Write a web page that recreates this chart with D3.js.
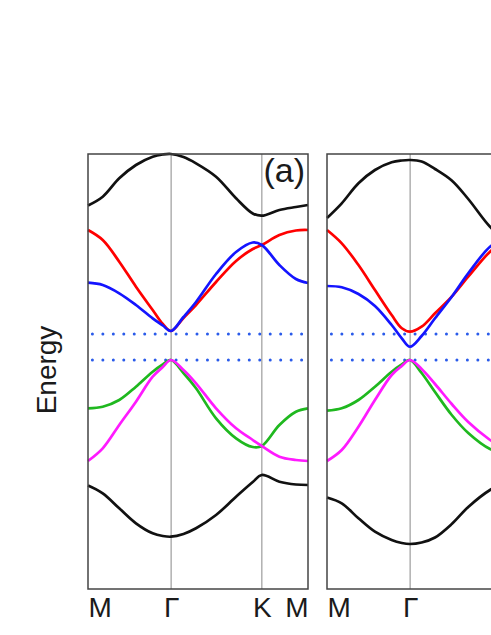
<!DOCTYPE html>
<html>
<head>
<meta charset="utf-8">
<script src="https://cdn.jsdelivr.net/npm/d3@7"></script>
<style>
  body { margin: 0; background: #fff; }
  svg { display: block; font-family: "Liberation Sans", Arial, sans-serif; }
</style>
</head>
<body>
<div id="chart"></div>
<script>
// k-path ticks (fraction of path length)
const kTicks = [0, 0.378, 0.79, 1];
const kLabels = ['M', 'Γ', 'K', 'M'];

// panel (a)
const kA = [0, 0.067, 0.142, 0.218, 0.294, 0.34, 0.377, 0.434, 0.491, 0.582, 0.673, 0.749, 0.79, 0.87, 0.945, 1];
const topA = [1.415, 1.503, 1.687, 1.82, 1.903, 1.925, 1.93, 1.9, 1.837, 1.703, 1.487, 1.335, 1.313, 1.37, 1.40, 1.42];
const redA = [1.17, 1.07, 0.853, 0.603, 0.37, 0.23, 0.16, 0.29, 0.42, 0.65, 0.86, 0.98, 1.02, 1.12, 1.165, 1.17];
const blueA = [0.643, 0.62, 0.537, 0.42, 0.287, 0.215, 0.16, 0.30, 0.45, 0.73, 0.95, 1.045, 1.02, 0.82, 0.68, 0.64];
const greenA = [-0.613, -0.597, -0.53, -0.397, -0.247, -0.175, -0.13, -0.26, -0.413, -0.713, -0.913, -1.0, -0.99, -0.78, -0.647, -0.613];
const magentaA = [-1.14, -1.013, -0.78, -0.547, -0.297, -0.2, -0.13, -0.23, -0.363, -0.613, -0.813, -0.93, -0.99, -1.097, -1.13, -1.14];
const bottomA = [-1.385, -1.463, -1.613, -1.763, -1.863, -1.89, -1.897, -1.87, -1.813, -1.68, -1.497, -1.35, -1.28, -1.347, -1.375, -1.38];

// panel (b)
const kB = [0, 0.067, 0.143, 0.218, 0.294, 0.34, 0.377, 0.43, 0.491, 0.567, 0.642, 0.741, 0.79, 0.87, 0.945, 1];
const topB = [1.29, 1.437, 1.637, 1.77, 1.847, 1.865, 1.87, 1.855, 1.78, 1.665, 1.48, 1.203, 1.12, 1.2, 1.27, 1.29];
const redB = [1.17, 1.037, 0.82, 0.57, 0.32, 0.187, 0.153, 0.203, 0.337, 0.503, 0.703, 0.953, 1.03, 1.12, 1.16, 1.17];
const blueB = [0.61, 0.597, 0.53, 0.41, 0.22, 0.087, 0.003, 0.11, 0.287, 0.503, 0.737, 1.003, 1.06, 0.85, 0.68, 0.64];
const greenB = [-0.637, -0.613, -0.53, -0.397, -0.247, -0.175, -0.13, -0.26, -0.45, -0.68, -0.86, -1.02, -1.05, -0.82, -0.66, -0.637];
const magentaB = [-1.14, -1.03, -0.797, -0.53, -0.28, -0.19, -0.13, -0.22, -0.37, -0.57, -0.75, -0.93, -1.0, -1.1, -1.13, -1.14];
const bottomB = [-1.505, -1.563, -1.713, -1.847, -1.93, -1.96, -1.97, -1.955, -1.905, -1.77, -1.6, -1.43, -1.38, -1.45, -1.49, -1.505];

// gap edges (dotted)
const gapEdges = [0.13, -0.13];

const bandColors = ['#111', '#ff0000', '#1414ff', '#1fb81f', '#ff1aff', '#111'];

function draw() {
    let dimensions = {
        width: 491,
        height: 635,
        top: 154,
        bottom: 589,
        panelWidth: 220,
        panels: [88, 327]
    };

    const yScale = d3.scaleLinear()
        .domain([-2.42, 1.93])
        .range([dimensions.bottom, dimensions.top]);

    const svg = d3.select('#chart')
        .append('svg')
        .attr('width', dimensions.width)
        .attr('height', dimensions.height);

    const panels = [
        { k: kA, bands: [topA, redA, blueA, greenA, magentaA, bottomA], label: '(a)' },
        { k: kB, bands: [topB, redB, blueB, greenB, magentaB, bottomB], label: null }
    ];

    panels.forEach((p, pi) => {
        const left = dimensions.panels[pi];
        const xScale = d3.scaleLinear()
            .domain([0, 1])
            .range([left, left + dimensions.panelWidth]);

        const g = svg.append('g');

        // vertical high-symmetry lines
        g.selectAll('line.sym')
            .data(kTicks.slice(1, 3))
            .join('line')
            .attr('class', 'sym')
            .attr('x1', d => xScale(d))
            .attr('x2', d => xScale(d))
            .attr('y1', dimensions.top)
            .attr('y2', dimensions.bottom)
            .attr('stroke', '#b0b0b0')
            .attr('stroke-width', 1.5);

        // dotted gap lines
        g.selectAll('line.gap')
            .data(gapEdges)
            .join('line')
            .attr('class', 'gap')
            .attr('x1', xScale(0.02))
            .attr('x2', xScale(0.985))
            .attr('y1', d => yScale(d))
            .attr('y2', d => yScale(d))
            .attr('stroke', '#2a5bea')
            .attr('stroke-width', 3)
            .attr('stroke-linecap', 'round')
            .attr('stroke-dasharray', '0.01 10.45');

        // bands
        const line = d3.line()
            .x(d => xScale(d[0]))
            .y(d => yScale(d[1]))
            .curve(d3.curveCatmullRom.alpha(0.5));

        g.selectAll('path.band')
            .data(p.bands)
            .join('path')
            .attr('class', 'band')
            .attr('fill', 'none')
            .attr('stroke', (d, i) => bandColors[i])
            .attr('stroke-width', 2.7)
            .attr('d', d => line(d.map((e, i) => [p.k[i], e])));

        // frame
        g.append('rect')
            .attr('x', xScale(0))
            .attr('y', dimensions.top)
            .attr('width', dimensions.panelWidth)
            .attr('height', dimensions.bottom - dimensions.top)
            .attr('fill', 'none')
            .attr('stroke', '#444')
            .attr('stroke-width', 1.5);

        // k axis (only ticks that fit in the window get a label)
        const shown = kTicks.filter(d => xScale(d) < dimensions.width - 12);
        const xAxis = d3.axisBottom(xScale)
            .tickValues(shown)
            .tickFormat((d, i) => kLabels[i])
            .tickSize(0)
            .tickPadding(8);

        const xAxisGroup = g.append('g')
            .attr('transform', `translate(0,${dimensions.bottom})`)
            .call(xAxis);

        xAxisGroup.select('.domain').remove();
        xAxisGroup.selectAll('text')
            .attr('font-size', 28)
            .attr('font-family', '"Liberation Sans", Arial, sans-serif')
            .attr('fill', '#1a1a1a')
            .attr('text-anchor', d => d === 0 ? 'start' : (d === 1 ? 'end' : 'middle'));

        if (p.label) {
            g.append('text')
                .attr('x', xScale(1) - 3)
                .attr('y', 182)
                .attr('text-anchor', 'end')
                .attr('font-size', 34)
                .attr('fill', '#1a1a1a')
                .text(p.label);
        }
    });

    svg.append('text')
        .attr('transform', 'translate(56,370) rotate(-90)')
        .attr('text-anchor', 'middle')
        .attr('font-size', 28)
        .attr('fill', '#1a1a1a')
        .text('Energy');
}

draw();
</script>
</body>
</html>
